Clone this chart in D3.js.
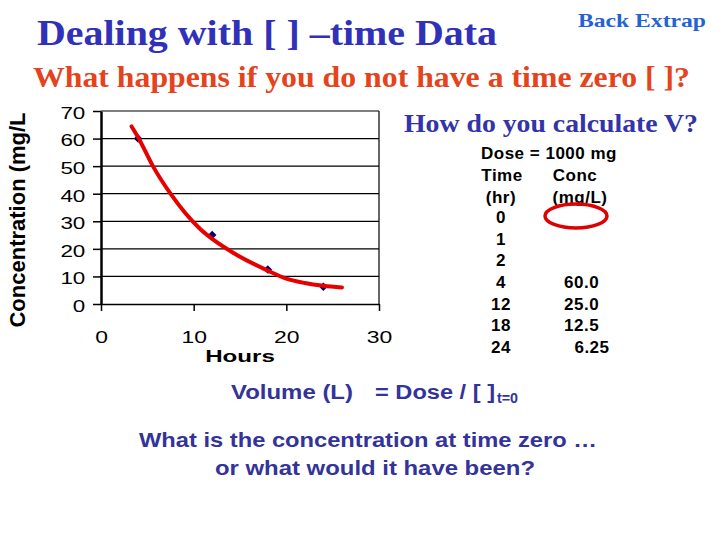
<!DOCTYPE html>
<html>
<head>
<meta charset="utf-8">
<script src="https://cdn.jsdelivr.net/npm/d3@7"></script>
<style>
  body { margin: 0; background: #fff; }
  svg { display: block; }
</style>
</head>
<body>
<div class="js-slide"></div>
<script>
// Measured points (hr, mg/L):
var pointHours = [4, 12, 18, 24];
var pointConc = [60, 25, 12.5, 6.25];

// Trend line:
var trendHours = [3.3, 4, 5.6, 7.5, 10.7, 12, 14.3, 18, 20, 22, 24, 26];
var trendConc = [64.4, 60.5, 50, 40, 27.2, 23.6, 18.5, 12.1, 9.2, 7.6, 6.6, 6.0];

var xTicks = [0, 10, 20, 30];
var yTicks = [0, 10, 20, 30, 40, 50, 60, 70];

// The table on the right:
var tableHours = ["0", "1", "2", "4", "12", "18", "24"];
var tableConc = ["", "", "", "60.0", "25.0", "12.5", "  6.25"];

const slide = (function () {
  "use strict";

  var publicAPIs = {};
  var svg = null;
  var x = null;
  var y = null;

  publicAPIs.init = function (selector) {
    svg = d3.select(selector)
      .append("svg")
      .attr("width", 720)
      .attr("height", 540);

    drawHeadings();
    drawChart();
    drawTable();
    drawFooter();
  };

  var drawHeadings = function () {
    svg.append("text")
      .attr("x", 37).attr("y", 45)
      .attr("textLength", 460).attr("lengthAdjust", "spacingAndGlyphs")
      .style("font", "bold 35px 'Liberation Serif', serif")
      .style("fill", "#3030b8")
      .text("Dealing with [ ] \u2013time Data");

    svg.append("text")
      .attr("x", 578).attr("y", 27)
      .attr("textLength", 128).attr("lengthAdjust", "spacingAndGlyphs")
      .style("font", "bold 19px 'Liberation Serif', serif")
      .style("fill", "#2463d4")
      .text("Back Extrap");

    svg.append("text")
      .attr("x", 33).attr("y", 87)
      .attr("textLength", 657).attr("lengthAdjust", "spacingAndGlyphs")
      .style("font", "bold 29px 'Liberation Serif', serif")
      .style("fill", "#e5431c")
      .text("What happens if you do not have a time zero [ ]?");

    svg.append("text")
      .attr("x", 404).attr("y", 132)
      .attr("textLength", 294).attr("lengthAdjust", "spacingAndGlyphs")
      .style("font", "bold 26px 'Liberation Serif', serif")
      .style("fill", "#3333aa")
      .text("How do you calculate V?");
  };

  var drawChart = function () {
    x = d3.scaleLinear().domain([0, 30]).range([101, 379]);
    y = d3.scaleLinear().domain([0, 70]).range([304, 111]);

    // gridlines
    svg.append("g")
      .selectAll("line")
      .data(yTicks.slice(1))
      .enter()
        .append("line")
        .attr("x1", x(0)).attr("x2", x(30))
        .attr("y1", function (d) { return y(d); })
        .attr("y2", function (d) { return y(d); })
        .attr("stroke", "#000").attr("stroke-width", 1.2);

    // right border of plot area
    svg.append("line")
      .attr("x1", x(30)).attr("x2", x(30))
      .attr("y1", y(70)).attr("y2", y(0))
      .attr("stroke", "#000").attr("stroke-width", 1.2);

    var xAxis = svg.append("g")
      .attr("transform", "translate(0," + y(0) + ")")
      .call(d3.axisBottom(x).tickValues(xTicks).tickSize(7).tickSizeOuter(0));
    xAxis.select(".domain").attr("stroke-width", 1.5);
    xAxis.selectAll(".tick line").attr("stroke-width", 1.5);
    xAxis.selectAll(".tick text")
      .attr("y", 39).attr("dy", 0)
      .attr("transform", "scale(1.35,1)")
      .style("font", "17px 'Liberation Sans', Arial, sans-serif")
      .style("fill", "#000");

    var yAxis = svg.append("g")
      .attr("transform", "translate(" + x(0) + ",0)")
      .call(d3.axisLeft(y).tickValues(yTicks).tickSize(8).tickSizeOuter(0));
    yAxis.select(".domain").attr("stroke-width", 2.5);
    yAxis.selectAll(".tick line").attr("stroke-width", 1.5);
    yAxis.selectAll(".tick text")
      .attr("x", -11.2).attr("dy", "0.46em")
      .attr("transform", "scale(1.4,1)")
      .style("font", "16px 'Liberation Sans', Arial, sans-serif")
      .style("fill", "#000");

    svg.append("text")
      .attr("transform", "translate(240,362) scale(1.42,1)")
      .attr("text-anchor", "middle")
      .style("font", "bold 17px 'Liberation Sans', Arial, sans-serif")
      .text("Hours");

    svg.append("text")
      .attr("transform", "translate(25,220) rotate(-90)")
      .attr("text-anchor", "middle")
      .style("font", "bold 22px 'Liberation Sans', Arial, sans-serif")
      .text("Concentration (mg/L");

    // points: small square diamonds, drawn first so the trend line sits on top
    svg.append("g")
      .selectAll("path")
      .data(d3.zip(pointHours, pointConc))
      .enter()
        .append("path")
        .attr("d", d3.symbol().type(d3.symbolSquare).size(36))
        .attr("transform", function (d) {
          return "translate(" + x(d[0]) + "," + y(d[1]) + ") rotate(45)";
        })
        .attr("fill", "#000066");

    // trend line
    var line = d3.line()
      .x(function (d) { return x(d[0]); })
      .y(function (d) { return y(d[1]); })
      .curve(d3.curveMonotoneX);

    svg.append("path")
      .datum(d3.zip(trendHours, trendConc))
      .attr("d", line)
      .attr("fill", "none")
      .attr("stroke", "#e60000")
      .attr("stroke-width", 4)
      .attr("stroke-linecap", "round");
  };

  var drawTable = function () {
    var font = "bold 17px 'Liberation Sans', Arial, sans-serif";
    var g = svg.append("g")
      .style("font", font)
      .style("letter-spacing", "0.5px")
      .style("fill", "#000");

    g.append("text").attr("x", 481).attr("y", 159).text("Dose = 1000 mg");
    g.append("text").attr("x", 502).attr("y", 181).attr("text-anchor", "middle").text("Time");
    g.append("text").attr("x", 575).attr("y", 181).attr("text-anchor", "middle").text("Conc");
    g.append("text").attr("x", 501).attr("y", 203).attr("text-anchor", "middle").text("(hr)");
    g.append("text").attr("x", 580).attr("y", 203).attr("text-anchor", "middle").text("(mg/L)");

    var rowY = d3.scaleLinear().domain([0, 6]).range([223, 353]);

    g.selectAll(".js-hr")
      .data(tableHours)
      .enter()
        .append("text")
        .attr("class", "js-hr")
        .attr("x", 501)
        .attr("y", function (d, i) { return rowY(i); })
        .attr("text-anchor", "middle")
        .text(function (d) { return d; });

    g.selectAll(".js-conc")
      .data(tableConc)
      .enter()
        .append("text")
        .attr("class", "js-conc")
        .attr("x", 564)
        .attr("y", function (d, i) { return rowY(i); })
        .style("white-space", "pre")
        .text(function (d) { return d; });

    // the missing time-zero value
    svg.append("ellipse")
      .attr("cx", 576).attr("cy", 216)
      .attr("rx", 31).attr("ry", 12)
      .attr("fill", "none")
      .attr("stroke", "#e00000")
      .attr("stroke-width", 3.5);
  };

  var drawFooter = function () {
    var font = "bold 20px 'Liberation Sans', Arial, sans-serif";
    var blue = "#333399";

    svg.append("text")
      .attr("x", 231).attr("y", 399)
      .attr("textLength", 122).attr("lengthAdjust", "spacingAndGlyphs")
      .style("font", font).style("fill", blue)
      .text("Volume (L)");

    svg.append("text")
      .attr("x", 375).attr("y", 399)
      .attr("textLength", 120).attr("lengthAdjust", "spacingAndGlyphs")
      .style("font", font).style("fill", blue)
      .text("= Dose / [ ]");

    svg.append("text")
      .attr("x", 497).attr("y", 403)
      .attr("textLength", 21).attr("lengthAdjust", "spacingAndGlyphs")
      .style("font", "bold 14px 'Liberation Sans', Arial, sans-serif")
      .style("fill", blue)
      .text("t=0");

    svg.append("text")
      .attr("x", 139).attr("y", 447)
      .attr("textLength", 458).attr("lengthAdjust", "spacingAndGlyphs")
      .style("font", "bold 21px 'Liberation Sans', Arial, sans-serif")
      .style("fill", blue)
      .text("What is the concentration at time zero \u2026");

    svg.append("text")
      .attr("x", 215).attr("y", 475)
      .attr("textLength", 320).attr("lengthAdjust", "spacingAndGlyphs")
      .style("font", "bold 21px 'Liberation Sans', Arial, sans-serif")
      .style("fill", blue)
      .text("or what would it have been?");
  };

  return publicAPIs;
})();

if (d3 && document.querySelectorAll(".js-slide").length) {
  slide.init(".js-slide");
}
</script>
</body>
</html>
